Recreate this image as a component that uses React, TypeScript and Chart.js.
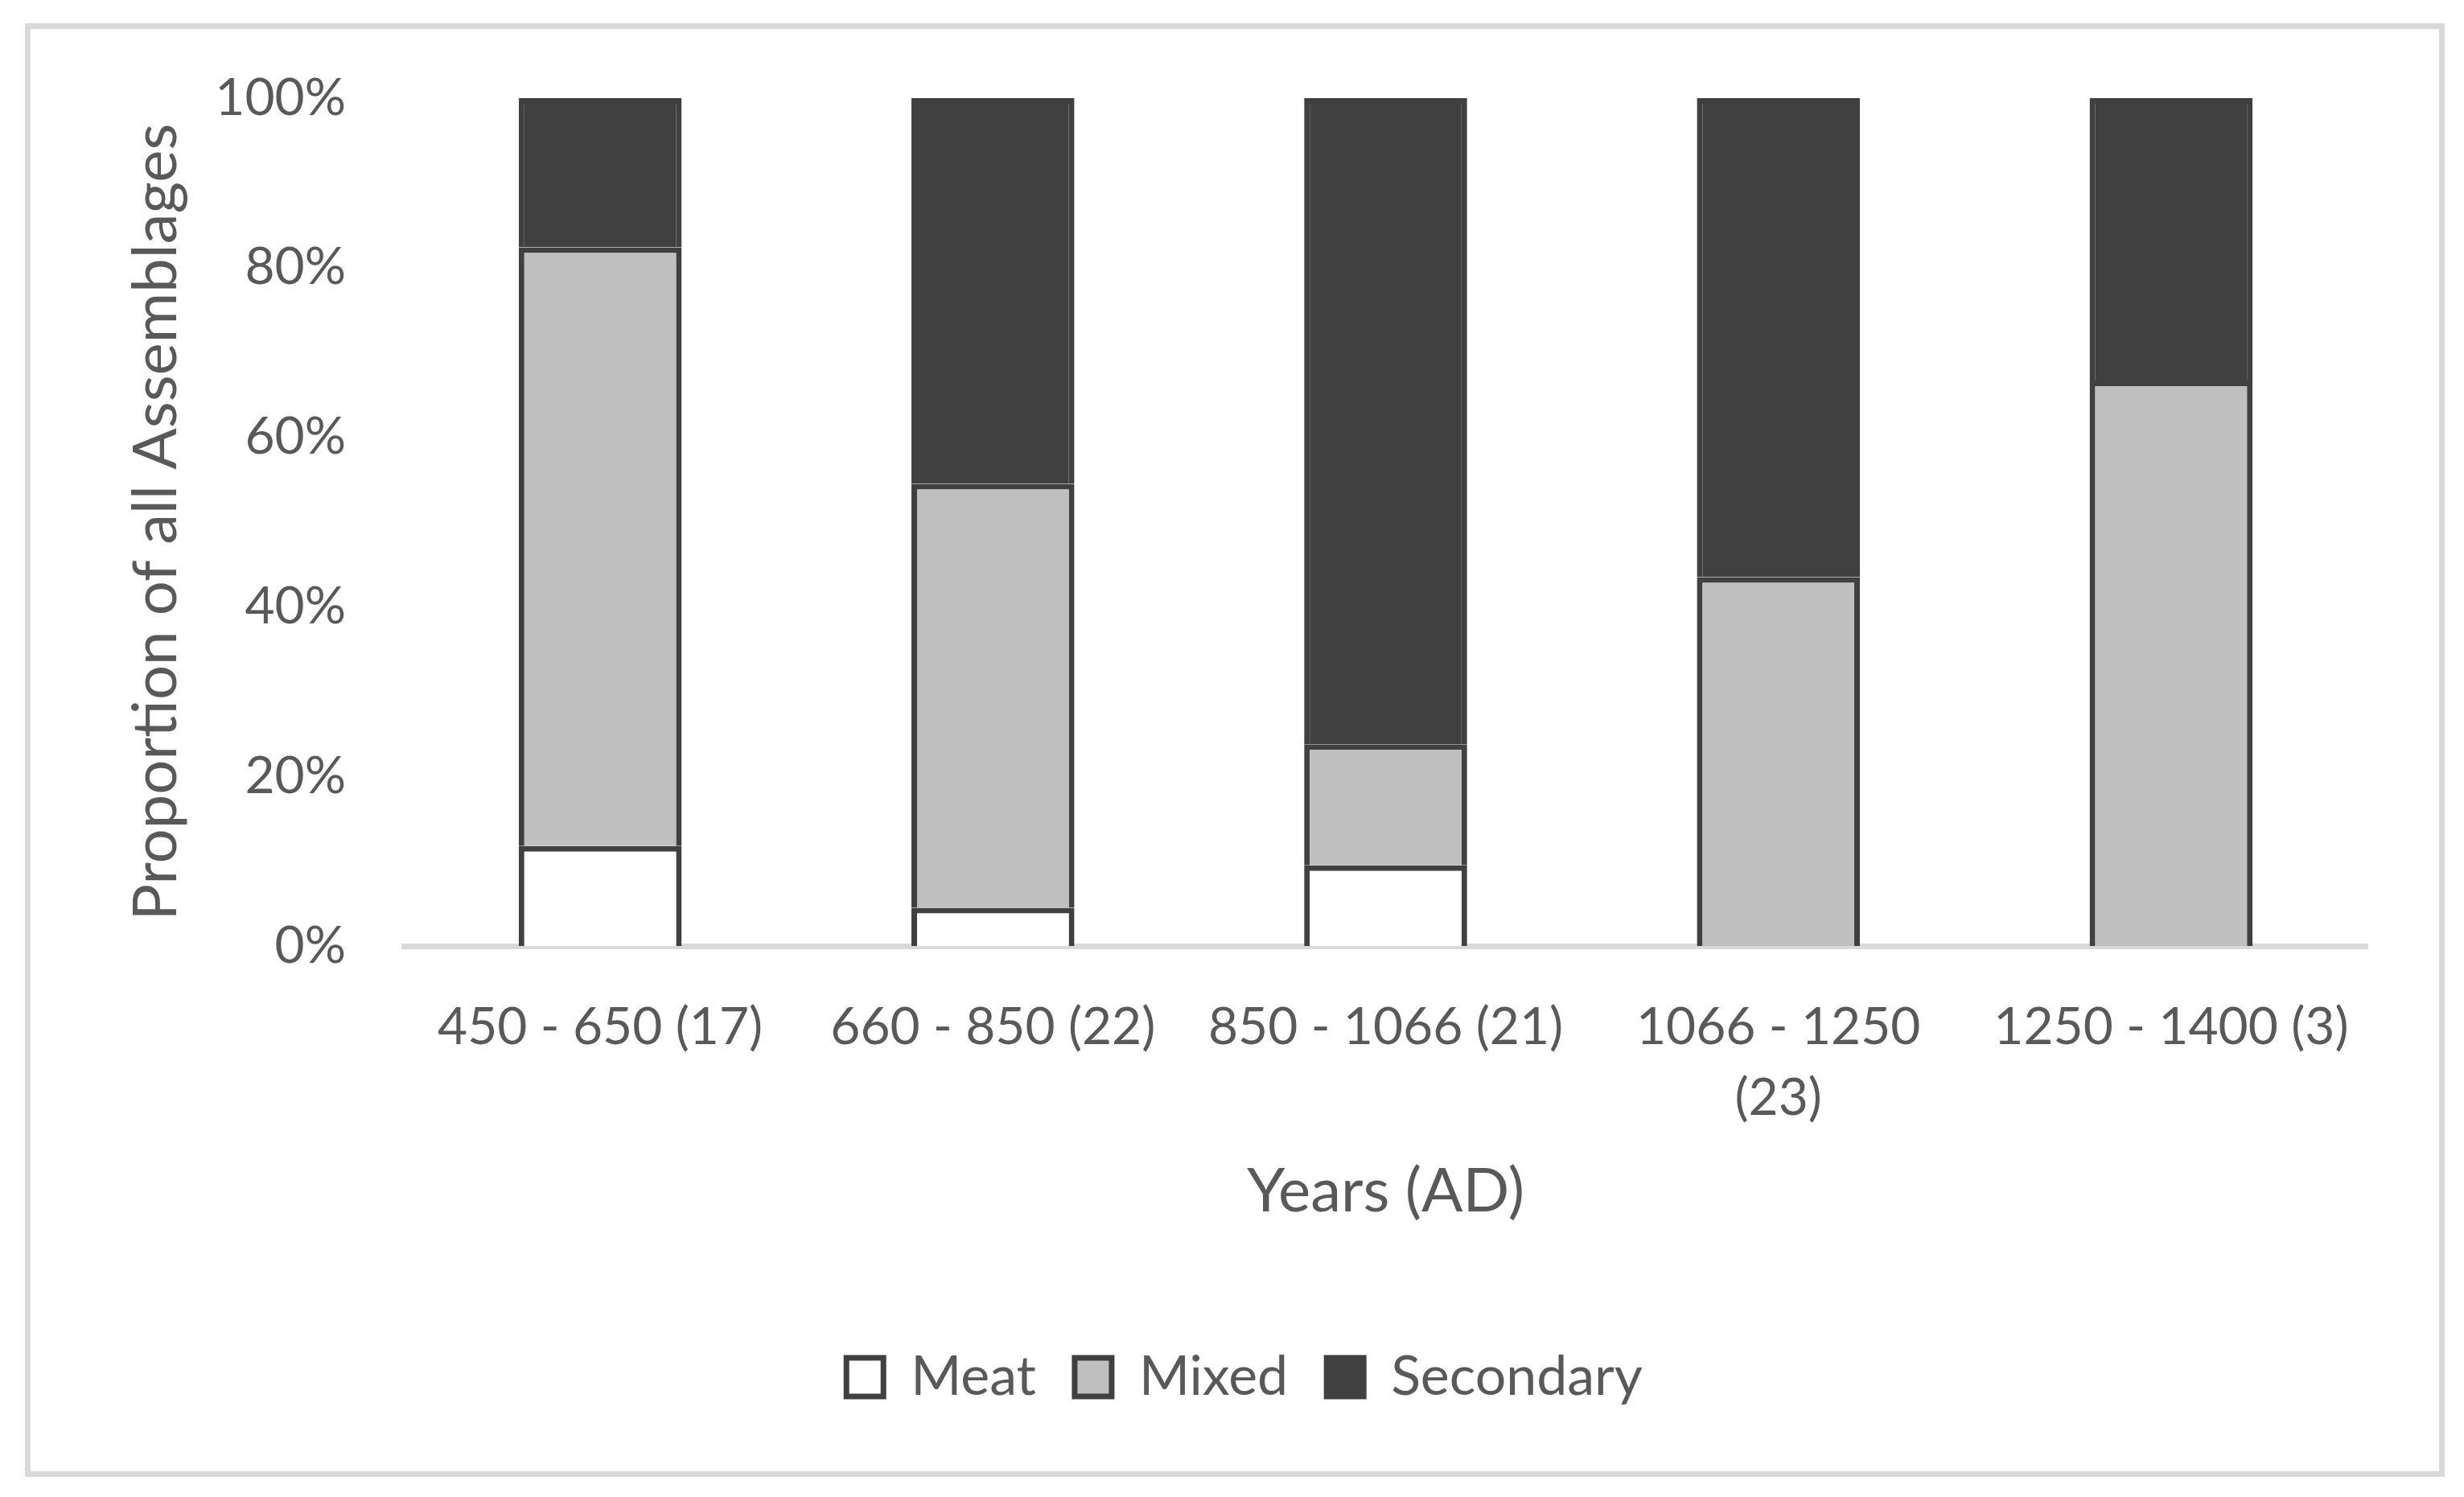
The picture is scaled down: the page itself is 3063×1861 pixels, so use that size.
import { useEffect, useRef } from "react";
import { Chart, registerables } from "chart.js";

Chart.register(...registerables);

// periods (with number of assemblages), one label wraps on two lines
const periods: (string | string[])[] = [
  "450 - 650 (17)",
  "660 - 850 (22)",
  "850 - 1066 (21)",
  ["1066 - 1250", "(23)"],
  "1250 - 1400 (3)",
];

// proportions in percent
const meat = [11.8, 4.5, 9.5, 0, 0];
const mixed = [70.6, 50.0, 14.3, 43.5, 66.7];
const secondary = [17.6, 45.5, 76.2, 56.5, 33.3];

const yTicks = [0, 20, 40, 60, 80, 100];

const textColor = "#595959";
const edge = "#404040";
const font = "Lato, 'Open Sans', sans-serif";

export default function App() {
  const ref = useRef<HTMLCanvasElement>(null);

  useEffect(() => {
    if (!ref.current) return;
    const chart = new Chart(ref.current, {
      type: "bar",
      data: {
        labels: periods,
        datasets: [
          { label: "Meat", data: meat, backgroundColor: "#ffffff", borderColor: edge, borderWidth: 7 },
          { label: "Mixed", data: mixed, backgroundColor: "#bfbfbf", borderColor: edge, borderWidth: 7 },
          { label: "Secondary", data: secondary, backgroundColor: edge, borderColor: edge, borderWidth: 7 },
        ],
      },
      options: {
        responsive: false,
        animation: false,
        devicePixelRatio: 1,
        layout: { padding: { left: 151, right: 120, top: 122, bottom: 105 } },
        datasets: { bar: { categoryPercentage: 1, barPercentage: 0.415 } },
        plugins: {
          tooltip: { enabled: false },
          legend: {
            position: "bottom",
            labels: {
              color: textColor,
              font: { family: font, size: 68 },
              boxWidth: 46,
              boxHeight: 48,
              padding: 48,
            },
          },
        },
        scales: {
          x: {
            stacked: true,
            afterFit: (s: any) => {
              s.height = 454;
            },
            grid: { display: false, drawTicks: false },
            border: { display: true, color: "#d9d9d9", width: 7 },
            ticks: {
              color: textColor,
              font: { family: font, size: 64, lineHeight: 1.375 },
              padding: 57,
              maxRotation: 0,
              autoSkip: false,
            },
            title: {
              display: true,
              text: "Years (AD)",
              color: textColor,
              font: { family: font, size: 76 },
              padding: { top: 0, bottom: 103 },
            },
          },
          y: {
            stacked: true,
            min: 0,
            max: 100,
            afterFit: (s: any) => {
              s.width = 351;
            },
            afterBuildTicks: (s: any) => {
              s.ticks = yTicks.map((v) => ({ value: v }));
            },
            grid: { display: false, drawTicks: false },
            border: { display: false },
            ticks: {
              color: textColor,
              font: { family: font, size: 64 },
              padding: 72,
              callback: (v: any) => v + "%",
            },
            title: {
              display: true,
              text: "Proportion of all Assemblages",
              color: textColor,
              font: { family: font, size: 76 },
              padding: { top: -2, bottom: 0 },
            },
          },
        },
      },
    });
    return () => {
      chart.destroy();
    };
  }, []);

  return (
    <div style={{ position: "absolute", left: 0, top: 0, width: 3063, height: 1861, background: "#fff" }}>
      <canvas ref={ref} width={3063} height={1861} style={{ position: "absolute", left: 0, top: 0 }} />
      <div
        style={{
          position: "absolute",
          left: 31,
          top: 29,
          width: 3008,
          height: 1807,
          boxSizing: "border-box",
          border: "7px solid #d9d9d9",
          pointerEvents: "none",
        }}
      />
    </div>
  );
}
